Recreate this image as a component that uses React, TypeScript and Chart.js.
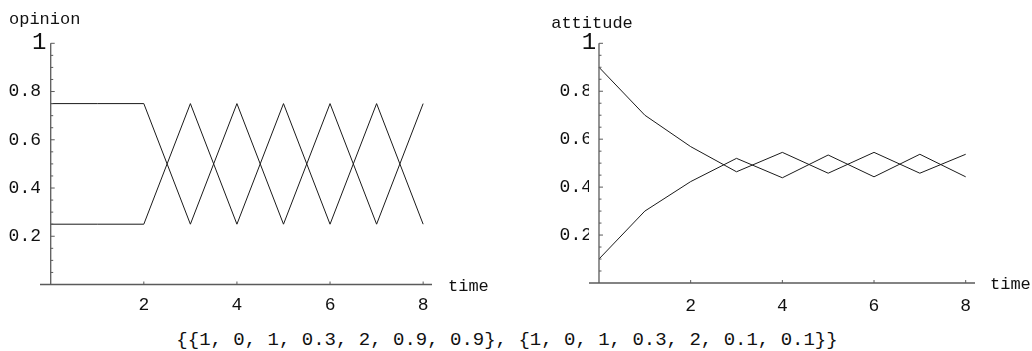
import React, { useEffect, useRef } from 'react';
import { Chart, registerables } from 'chart.js';

Chart.register(...registerables);

// ---- data ----
const time = [0, 1, 2, 3, 4, 5, 6, 7, 8];
const opinionUpper = [0.75, 0.75, 0.75, 0.25, 0.75, 0.25, 0.75, 0.25, 0.75];
const opinionLower = [0.25, 0.25, 0.25, 0.75, 0.25, 0.75, 0.25, 0.75, 0.25];
const attitudeHigh = [0.9, 0.7, 0.569, 0.464, 0.545, 0.458, 0.545, 0.458, 0.537];
const attitudeLow = [0.1, 0.3, 0.423, 0.52, 0.439, 0.534, 0.443, 0.537, 0.443];
const xTickValues = [2, 4, 6, 8];
const xTickLabels = ['2', '4', '6', '8'];
const yTickValues = [0.2, 0.4, 0.6, 0.8, 1];
const yTickLabels = ['0.2', '0.4', '0.6', '0.8', '1'];
const yMinorStep = 0.05;
const xAxisTitle = 'time';
const parameterText = '{{1, 0, 1, 0.3, 2, 0.9, 0.9}, {1, 0, 1, 0.3, 2, 0.1, 0.1}}';

const FONT = '"Liberation Mono", "Courier New", monospace';
const LINE = '#1a1a1a';
const AXIS = '#5a5a5a';
const TEXT = '#111';

type Spec = {
  yTitle: string;
  series: number[][];
  xMin: number;
  xMax: number;
  yAxisWidth: number;
  xAxisHeight: number;
  padRight: number;
  padTop: number;
  yLabelPad: number;
  xLabelPad: number;
  titleDx: number;
  titleBaseline: number;
  timeDx: number;
  timeDy: number;
  topLabelDx: number;
};

const findLabel = (v: number, values: number[], labels: string[]) => {
  const i = values.findIndex((t) => Math.abs(t - v) < 1e-6);
  return i >= 0 ? labels[i] : '';
};

const isTop = (v: number) => Math.abs(v - 1) < 1e-6;

const axesPlugin = {
  id: 'mathAxes',
  afterDraw(chart: any, _args: any, opts: any) {
    const { ctx, chartArea } = chart;
    const xs = chart.scales.x;
    const ys = chart.scales.y;
    const x0 = xs.getPixelForValue(0);
    const y0 = ys.getPixelForValue(0);
    const y1 = ys.getPixelForValue(1);
    ctx.save();
    ctx.strokeStyle = AXIS;
    ctx.lineWidth = 1.3;
    ctx.beginPath();
    ctx.moveTo(chartArea.left, y0);
    ctx.lineTo(chartArea.right, y0);
    ctx.stroke();
    ctx.beginPath();
    ctx.moveTo(x0, y1);
    ctx.lineTo(x0, y0);
    ctx.stroke();
    ctx.lineWidth = 1;
    for (const t of ys.ticks) {
      if (t.value <= 1e-6) continue;
      const major = findLabel(t.value, yTickValues, yTickLabels) !== '';
      const py = ys.getPixelForValue(t.value);
      ctx.beginPath();
      ctx.moveTo(x0, py);
      ctx.lineTo(x0 + (major ? 4 : 2.5), py);
      ctx.stroke();
    }
    for (const v of xTickValues) {
      const px = xs.getPixelForValue(v);
      ctx.beginPath();
      ctx.moveTo(px, y0);
      ctx.lineTo(px, y0 - 3);
      ctx.stroke();
    }
    ctx.fillStyle = TEXT;
    // top y tick label (drawn larger, as in the original)
    ctx.font = `24px ${FONT}`;
    ctx.textAlign = 'center';
    ctx.textBaseline = 'middle';
    ctx.fillText(findLabel(1, yTickValues, yTickLabels), x0 + opts.topLabelDx, y1 - 1);
    // axis titles
    ctx.font = `17px ${FONT}`;
    ctx.textAlign = 'center';
    ctx.textBaseline = 'alphabetic';
    ctx.fillText(opts.yTitle, x0 + opts.titleDx, opts.titleBaseline);
    ctx.textAlign = 'left';
    ctx.fillText(xAxisTitle, chartArea.right + opts.timeDx, y0 + opts.timeDy);
    ctx.restore();
  },
};

function makeChart(canvas: HTMLCanvasElement, spec: Spec) {
  return new Chart(canvas, {
    type: 'line',
    data: {
      datasets: spec.series.map((s) => ({
        data: time.map((t, i) => ({ x: t, y: s[i] })),
        borderColor: LINE,
        borderWidth: 1,
        pointRadius: 0,
        tension: 0,
        fill: false,
      })),
    },
    options: {
      animation: false,
      responsive: false,
      devicePixelRatio: 1,
      layout: { padding: { left: 0, right: spec.padRight, top: spec.padTop, bottom: 0 } },
      plugins: {
        legend: { display: false },
        tooltip: { enabled: false },
        mathAxes: {
          yTitle: spec.yTitle,
          titleDx: spec.titleDx,
          titleBaseline: spec.titleBaseline,
          timeDx: spec.timeDx,
          timeDy: spec.timeDy,
          topLabelDx: spec.topLabelDx,
        },
      } as any,
      scales: {
        x: {
          type: 'linear',
          position: 'bottom',
          min: spec.xMin,
          max: spec.xMax,
          grid: { display: false, drawTicks: false },
          border: { display: false },
          afterBuildTicks: (s: any) => {
            s.ticks = xTickValues.map((v) => ({ value: v }));
          },
          afterFit: (s: any) => {
            s.height = spec.xAxisHeight;
          },
          ticks: {
            autoSkip: false,
            maxRotation: 0,
            padding: spec.xLabelPad,
            color: TEXT,
            font: { family: FONT, size: 18 },
            callback: (v: any) => findLabel(Number(v), xTickValues, xTickLabels),
          },
        },
        y: {
          type: 'linear',
          position: 'left',
          min: 0,
          max: 1,
          grid: { display: false, drawTicks: false },
          border: { display: false },
          afterFit: (s: any) => {
            s.width = spec.yAxisWidth;
          },
          ticks: {
            stepSize: yMinorStep,
            autoSkip: false,
            padding: spec.yLabelPad,
            color: TEXT,
            font: { family: FONT, size: 18 },
            callback: (v: any) =>
              isTop(Number(v)) ? '' : findLabel(Number(v), yTickValues, yTickLabels),
          },
        },
      },
    },
    plugins: [axesPlugin as any],
  });
}

const leftSpec: Spec = {
  yTitle: 'opinion',
  series: [opinionUpper, opinionLower],
  xMin: -0.23,
  xMax: 8.19,
  yAxisWidth: 40,
  xAxisHeight: 35.5,
  padRight: 84,
  padTop: 43.3,
  yLabelPad: -1,
  xLabelPad: 10,
  titleDx: -6,
  titleBaseline: 23.5,
  timeDx: 16,
  timeDy: 6.5,
  topLabelDx: -11.5,
};

const rightSpec: Spec = {
  yTitle: 'attitude',
  series: [attitudeHigh, attitudeLow],
  xMin: -0.218,
  xMax: 8.203,
  yAxisWidth: 73,
  xAxisHeight: 37,
  padRight: 57,
  padTop: 43.3,
  yLabelPad: -3,
  xLabelPad: 12,
  titleDx: -7,
  titleBaseline: 27.5,
  timeDx: 15,
  timeDy: 5.5,
  topLabelDx: -10,
};

function Panel({ spec, left }: { spec: Spec; left: number }) {
  const ref = useRef<HTMLCanvasElement | null>(null);
  useEffect(() => {
    if (!ref.current) return;
    const chart = makeChart(ref.current, spec);
    return () => chart.destroy();
  }, [spec]);
  return (
    <canvas
      ref={ref}
      width={516}
      height={320}
      style={{ position: 'absolute', left, top: 0, width: 516, height: 320 }}
    />
  );
}

export default function App() {
  return (
    <div
      style={{
        position: 'absolute',
        left: 0,
        top: 0,
        width: 1032,
        height: 351,
        background: '#fff',
        overflow: 'hidden',
      }}
    >
      <Panel spec={leftSpec} left={0} />
      <Panel spec={rightSpec} left={516} />
      <div
        style={{
          position: 'absolute',
          left: 0,
          top: 331,
          width: 1014,
          textAlign: 'center',
          fontFamily: FONT,
          fontSize: 19,
          lineHeight: '19px',
          color: TEXT,
          whiteSpace: 'pre',
        }}
      >
        {parameterText}
      </div>
    </div>
  );
}
